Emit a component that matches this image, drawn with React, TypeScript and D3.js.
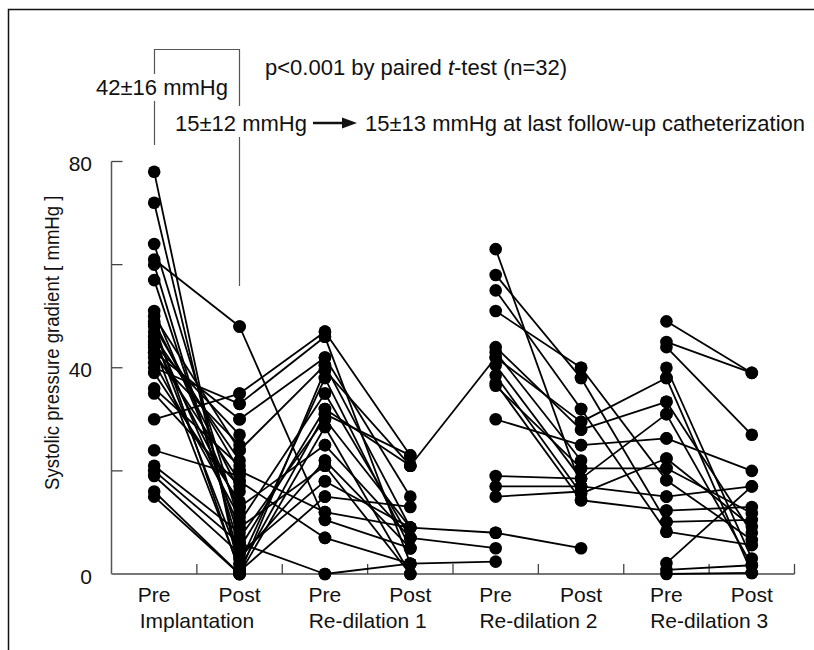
import React from "react";
import * as d3 from "d3";

const columnLabels = ["Pre", "Post", "Pre", "Post", "Pre", "Post", "Pre", "Post"];
const groupLabels = ["Implantation", "Re-dilation 1", "Re-dilation 2", "Re-dilation 3"];
const yTickValues = [0, 20, 40, 60, 80];
const yTickLabelValues = [0, 40, 80];

// [pre, post] pairs for each procedure and links between procedures
const implantationPairs: [number, number][] = [
  [78, 0], [72, 2], [64, 10], [61, 48], [60, 5], [57, 7], [51, 12], [50, 24],
  [49, 16], [48.5, 0.5], [48, 20], [47, 9], [46, 22], [46, 3], [45, 13], [44.5, 27],
  [44, 1], [43, 18], [43, 30], [42, 25], [41, 11], [40, 33], [39, 14], [36, 21],
  [35, 17], [30, 35], [24, 19], [21, 8], [20, 6], [19, 4], [16, 0], [15, 0],
];
const implToRd1Links: [number, number][] = [
  [35, 47], [33, 46], [30, 42], [24, 40.5], [0, 39.5], [2, 38], [10, 35], [5, 32],
  [1, 31], [7, 30], [0, 28.5], [13, 25], [3, 22], [9, 21], [4, 18], [0.5, 15],
  [20, 12], [48, 10.5], [18, 7], [6, 0],
];
const rd1Pairs: [number, number][] = [
  [47, 23], [46, 2], [42, 15], [40.5, 9], [39.5, 21], [38, 5], [35, 7], [32, 21],
  [31, 23], [30, 9], [28.5, 0], [25, 7], [22, 5], [21, 0], [18, 9], [15, 13],
  [12, 9], [10.5, 5], [7, 2], [0, 2],
];
const rd1ToRd2Links: [number, number][] = [[21, 42], [9, 8], [7, 5], [2, 2.4]];
const rd2Pairs: [number, number][] = [
  [63, 17], [58, 38], [55, 32], [51, 40], [44, 28], [43, 22], [42, 29.5], [40.5, 18.5],
  [38.5, 15.6], [37, 14.3], [36.5, 20.5], [30, 25], [19, 18.5], [17, 17], [15, 16], [8, 5],
];
const rd2ToRd3Links: [number, number][] = [
  [29.5, 38], [28, 33.4], [18.5, 31], [25, 26.3], [15.6, 22.4], [20.5, 20.5],
  [17, 15], [14.3, 12.3], [32, 8.2], [40, 18.2], [38, 10.1],
];
const rd3Pairs: [number, number][] = [
  [49, 39], [45, 39], [44, 27], [40, 3], [38, 0.2], [33.4, 8], [31, 1.7], [26.3, 20],
  [22.4, 9.2], [20.5, 11.8], [18.2, 6.6], [15, 17], [12.3, 13], [10.1, 10.5],
  [8.2, 5.6], [2.1, 17], [0.8, 1.7], [0, 0.2],
];

const segmentSets: { from: number; pairs: [number, number][] }[] = [
  { from: 0, pairs: implantationPairs },
  { from: 1, pairs: implToRd1Links },
  { from: 2, pairs: rd1Pairs },
  { from: 3, pairs: rd1ToRd2Links },
  { from: 4, pairs: rd2Pairs },
  { from: 5, pairs: rd2ToRd3Links },
  { from: 6, pairs: rd3Pairs },
];

const FONT = "'Liberation Sans', Arial, Helvetica, sans-serif";

export default function App() {
  const W = 814;
  const H = 650;
  const x = d3.scaleBand<number>().domain(d3.range(8)).range([111.5, 794.5]);
  const y = d3.scaleLinear().domain([0, 80]).range([574, 161.5]);
  const cx = (i: number) => (x(i) as number) + x.bandwidth() / 2;

  const segs: { x1: number; y1: number; x2: number; y2: number }[] = [];
  const pts: { x: number; y: number }[] = [];
  segmentSets.forEach((s) => {
    s.pairs.forEach(([a, b]) => {
      segs.push({ x1: cx(s.from), y1: y(a), x2: cx(s.from + 1), y2: y(b) });
      pts.push({ x: cx(s.from), y: y(a) });
      pts.push({ x: cx(s.from + 1), y: y(b) });
    });
  });

  const axisX0 = x.range()[0];
  const axisX1 = x.range()[1];
  const y0 = y(0);

  return (
    <svg
      width={W}
      height={H}
      style={{ position: "absolute", left: 0, top: 0, background: "#fff" }}
      fontFamily={FONT}
    >
      <rect x={0} y={0} width={W} height={H} fill="#fff" />
      {/* frame */}
      <path d={`M8.5,${H} V9.5 H${W}`} fill="none" stroke="#111" strokeWidth={1.5} />

      {/* bracket */}
      <g stroke="#555" strokeWidth={1.2} fill="none">
        <path d="M154.5,74 V49.5 H239.5 V106" />
        <line x1={154.5} y1={101} x2={154.5} y2={145} />
        <line x1={239.5} y1={137} x2={239.5} y2={286} />
      </g>

      {/* annotations */}
      <g fill="#111" fontSize={22}>
        <text x={96} y={95}>42±16 mmHg</text>
        <text x={265} y={75}>
          p&lt;0.001 by paired <tspan fontStyle="italic">t</tspan>-test (n=32)
        </text>
        <text x={175} y={131}>15±12 mmHg</text>
        <text x={365} y={131}>15±13 mmHg at last follow-up catheterization</text>
      </g>
      <line x1={313} y1={123} x2={346} y2={123} stroke="#111" strokeWidth={2.5} />
      <polygon points="342,117.5 357,123 342,128.5" fill="#111" />

      {/* axes */}
      <line x1={axisX0} y1={y(80)} x2={axisX0} y2={y0} stroke="#555" strokeWidth={1.5} />
      {yTickValues.filter((v) => v > 0).map((v) => (
        <line key={v} x1={axisX0} x2={axisX0 + 11} y1={y(v)} y2={y(v)} stroke="#444" strokeWidth={1.3} />
      ))}
      <line x1={axisX0} y1={y0} x2={axisX1} y2={y0} stroke="#777" strokeWidth={2.2} />
      {d3.range(1, 9).map((i) => {
        const tx = axisX0 + i * x.step();
        return <line key={i} x1={tx} x2={tx} y1={y0} y2={y0 - 10} stroke="#444" strokeWidth={1.3} />;
      })}

      <g fill="#111" fontSize={21} textAnchor="end">
        {yTickLabelValues.map((v) => (
          <text key={v} x={92} y={y(v) + 2} dominantBaseline="central">{v}</text>
        ))}
      </g>
      <text
        transform={`translate(52,${(y(0) + y(80)) / 2 - 25}) rotate(-90) scale(1,1.12)`}
        textAnchor="middle"
        dominantBaseline="central"
        fontSize={18.6}
        fill="#111"
      >
        Systolic pressure gradient [ mmHg ]
      </text>

      <g fill="#111" fontSize={21} textAnchor="middle">
        {columnLabels.map((l, i) => (
          <text key={i} x={cx(i)} y={594} dominantBaseline="central">{l}</text>
        ))}
        {groupLabels.map((l, g) => (
          <text key={l} x={(cx(2 * g) + cx(2 * g + 1)) / 2} y={620} dominantBaseline="central">{l}</text>
        ))}
      </g>

      {/* data */}
      <g stroke="#000" strokeWidth={1.8}>
        {segs.map((s, i) => (
          <line key={i} x1={s.x1} y1={s.y1} x2={s.x2} y2={s.y2} />
        ))}
      </g>
      <g fill="#000">
        {pts.map((p, i) => (
          <circle key={i} cx={p.x} cy={p.y} r={6.3} />
        ))}
      </g>
    </svg>
  );
}
